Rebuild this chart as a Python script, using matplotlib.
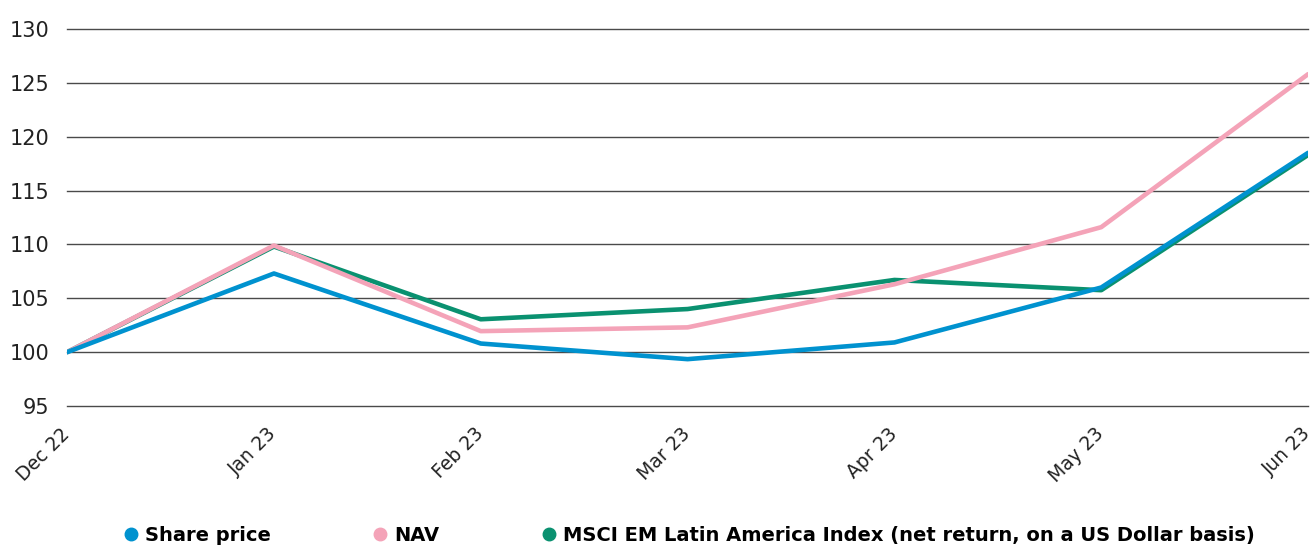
import matplotlib.pyplot as plt
from matplotlib.lines import Line2D

# data (rebased to 100)
months = ['Dec 22', 'Jan 23', 'Feb 23', 'Mar 23', 'Apr 23', 'May 23', 'Jun 23']
share_price = [100, 107.3, 100.8, 99.35, 100.9, 106.0, 118.5]
nav = [100, 109.9, 101.95, 102.3, 106.3, 111.6, 125.8]
msci = [100, 109.8, 103.05, 104.0, 106.7, 105.75, 118.3]
yticks = [95, 100, 105, 110, 115, 120, 125, 130]

c_share = '#0092cf'
c_nav = '#f4a3b8'
c_msci = '#0a9170'

fig = plt.figure(figsize=(13.16, 5.45), dpi=100)
ax = fig.add_axes([0.051, 0.255, 0.943, 0.692])

x = list(range(len(months)))
ax.plot(x, msci, color=c_msci, lw=3.3, solid_capstyle='round', zorder=3)
ax.plot(x, nav, color=c_nav, lw=3.3, solid_capstyle='round', zorder=4)
ax.plot(x, share_price, color=c_share, lw=3.3, solid_capstyle='round', zorder=5)

ax.set_xlim(0, len(months) - 1)
ax.set_ylim(95, 130)
ax.set_yticks(yticks)
ax.yaxis.grid(True, color='#4a4a4a', lw=1.0, clip_on=False)
for gl in ax.get_ygridlines():
    gl.set_clip_on(False)
ax.set_axisbelow(True)
for s in ax.spines.values():
    s.set_visible(False)
ax.tick_params(axis='both', length=0)
ax.tick_params(axis='y', pad=13, labelsize=15, labelcolor='#222222')
ax.set_xticks(x)
ax.set_xticklabels(months, rotation=45, ha='right', va='center', rotation_mode='anchor',
                   fontsize=13.5, color='#222222')
ax.tick_params(axis='x', pad=18)

handles = [Line2D([], [], ls='none', marker='o', ms=9, color=c) for c in (c_share, c_nav, c_msci)]
labels = ['Share price', 'NAV', 'MSCI EM Latin America Index (net return, on a US Dollar basis)']
fig.legend(handles, labels, loc='center', bbox_to_anchor=(0.5236, 0.018), ncol=3, frameon=False,
           handletextpad=0.35, columnspacing=5.2, handlelength=0.8,
           prop={'weight': 'bold', 'size': 14})

fig.savefig('out.png', dpi=100)
